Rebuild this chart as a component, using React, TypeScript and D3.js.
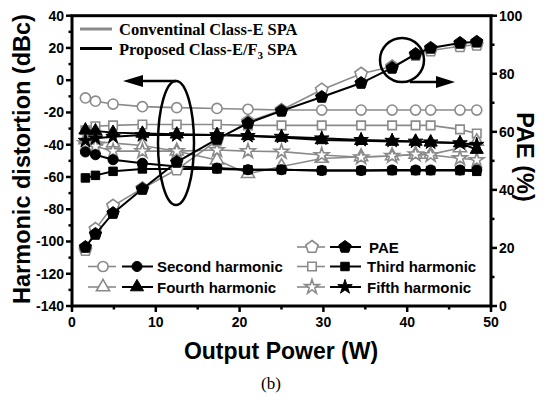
import React from "react";
import * as d3 from "d3";

// Output power sweep (W)
const outputPower = [1.6, 2.8, 4.9, 8.4, 12.5, 17.3, 21.0, 25.0, 29.8, 34.5, 38.2, 41.0, 42.8, 46.3, 48.3];

// Conventional Class-E SPA harmonics (dBc)
const convSecond = [-11, -13, -14.8, -16.4, -17, -17.5, -18, -18.5, -18.5, -18.5, -18.5, -18.5, -18.5, -18.5, -18.5];
const convThird = [-31, -28.5, -28, -27.5, -27.5, -27.5, -28, -28, -28, -28, -28, -28, -28, -30.5, -33];
const convFourth = [-37, -38, -39, -40.5, -44, -49.5, -58, -53.5, -48.5, -47.5, -47, -46, -46, -42, -38];
const convFifth = [-39, -41, -44, -44, -44, -43.3, -44, -44.3, -46.4, -47.8, -47, -46, -46.4, -48.4, -49.5];

// Proposed Class-E/F3 SPA harmonics (dBc)
const propSecond = [-44.5, -46.2, -49.3, -51.5, -53.5, -54.5, -55.5, -55.5, -56, -56, -55.7, -55.7, -55.7, -55.7, -55.7];
const propThird = [-60.6, -59, -56.5, -55, -55, -55, -55.5, -55.5, -56, -56, -56, -56, -56, -56, -56.5];
const propFourth = [-31, -31.5, -32.5, -33, -33.5, -34, -34.5, -35.5, -37, -37.5, -38, -38, -38.5, -39, -43];
const propFifth = [-37.5, -36, -35, -34, -34, -34, -34.5, -35, -36, -37, -37.5, -38, -38.5, -39, -40];

// PAE (%)
const convPAE = [19.3, 26.5, 34.5, 40.5, 47, 57, 63.5, 67.5, 74.5, 80, 82.5, 86.5, 88, 89.5, 90];
const propPAE = [20.3, 24.8, 32, 40.3, 49.6, 57.5, 63, 67.2, 72, 76.8, 82, 86.8, 88.9, 90.6, 91];

const xTicks = [0, 10, 20, 30, 40, 50];
const leftTicks = [-140, -120, -100, -80, -60, -40, -20, 0, 20, 40];
const rightTicks = [0, 20, 40, 60, 80, 100];

const GRAY = "#8a8a8a";
const BLACK = "#000";
const SANS = "Arial, 'Liberation Sans', sans-serif";
const SERIF = "'Times New Roman', 'Liberation Serif', serif";

type Shape = "circle" | "square" | "triangle" | "star" | "pentagon";

function shapePath(shape: Shape): string {
  if (shape === "pentagon") {
    const r = 6.5;
    const pts = d3.range(5).map((k) => {
      const a = -Math.PI / 2 + (k * 2 * Math.PI) / 5;
      return [r * Math.cos(a), r * Math.sin(a)];
    });
    return "M" + pts.map((p) => p.join(",")).join("L") + "Z";
  }
  const map: Record<string, [d3.SymbolType, number]> = {
    circle: [d3.symbolCircle, 80],
    square: [d3.symbolSquare, 72],
    triangle: [d3.symbolTriangle, 75],
    star: [d3.symbolStar, 65],
  };
  const [type, size] = map[shape];
  return d3.symbol().type(type).size(size)() as string;
}

function Marker({ shape, open, x, y }: { shape: Shape; open: boolean; x: number; y: number }) {
  return (
    <path
      d={shapePath(shape)}
      transform={`translate(${x},${y})`}
      fill={open ? "#fff" : BLACK}
      stroke={open ? GRAY : BLACK}
      strokeWidth={open ? 1.6 : 1}
    />
  );
}

export default function App() {
  const width = 547;
  const height = 400;
  const left = 72;
  const right = 491;
  const top = 15.7;
  const bottom = 306;

  const x = d3.scaleLinear().domain([0, 50]).range([left, right]);
  const yL = d3.scaleLinear().domain([-140, 40]).range([bottom, top]);
  const yR = d3.scaleLinear().domain([0, 100]).range([bottom, top]);

  const series = (vals: number[], y: d3.ScaleLinear<number, number>, shape: Shape, open: boolean, key: string) => {
    const pts = vals.map((v, i) => [x(outputPower[i]), y(v)] as [number, number]);
    const line = d3.line()(pts) as string;
    return (
      <g key={key}>
        <path d={line} fill="none" stroke={open ? GRAY : BLACK} strokeWidth={open ? 1.6 : 2} />
        {pts.map((p, i) => (
          <Marker key={i} shape={shape} open={open} x={p[0]} y={p[1]} />
        ))}
      </g>
    );
  };

  const legendRow = (gx: number, bx: number, tx: number, y: number, shape: Shape, label: string) => (
    <g key={label}>
      <line x1={gx - 15} x2={gx + 13} y1={y} y2={y} stroke={GRAY} strokeWidth={1.6} />
      <Marker shape={shape} open={true} x={gx} y={y} />
      <line x1={bx - 15} x2={bx + 16} y1={y} y2={y} stroke={BLACK} strokeWidth={2} />
      <Marker shape={shape} open={false} x={bx} y={y} />
      <text x={tx} y={y + 5.5} fontFamily={SANS} fontWeight="bold" fontSize={15}>
        {label}
      </text>
    </g>
  );

  const leftMinor = d3.range(-130, 40, 20);
  const rightMinor = d3.range(10, 100, 20);
  const xMinor = d3.range(5, 50, 10);

  return (
    <svg width={width} height={height} style={{ position: "absolute", left: 0, top: 0, background: "#fff" }}>
      {/* data */}
      {series(convSecond, yL, "circle", true, "cs")}
      {series(convThird, yL, "square", true, "ct")}
      {series(convFourth, yL, "triangle", true, "cf")}
      {series(convFifth, yL, "star", true, "cv")}
      {series(propSecond, yL, "circle", false, "ps")}
      {series(propThird, yL, "square", false, "pt")}
      {series(propFourth, yL, "triangle", false, "pf")}
      {series(propFifth, yL, "star", false, "pv")}
      {series(convPAE, yR, "pentagon", true, "cp")}
      {series(propPAE, yR, "pentagon", false, "pp")}

      {/* annotations */}
      <ellipse cx={176} cy={143} rx={18} ry={62} fill="none" stroke={BLACK} strokeWidth={2.5} />
      <line x1={176} y1={81} x2={138} y2={81} stroke={BLACK} strokeWidth={2.5} />
      <path d="M123,81 L143,75 L143,87 Z" fill={BLACK} />
      <circle cx={402} cy={60} r={22} fill="none" stroke={BLACK} strokeWidth={2.5} />
      <line x1={410} y1={82} x2={440} y2={82} stroke={BLACK} strokeWidth={2.5} />
      <path d="M455,82 L436,76 L436,88 Z" fill={BLACK} />

      {/* frame */}
      <rect x={left} y={top} width={right - left} height={bottom - top} fill="none" stroke={BLACK} strokeWidth={3} />

      {/* left axis */}
      {leftTicks.map((t) => (
        <g key={"l" + t}>
          <line x1={left - 6} x2={left} y1={yL(t)} y2={yL(t)} stroke={BLACK} strokeWidth={2.5} />
          <text x={left - 8} y={yL(t) + 5} textAnchor="end" fontFamily={SANS} fontWeight="bold" fontSize={14}>
            {t}
          </text>
        </g>
      ))}
      {leftMinor.map((t) => (
        <line key={"lm" + t} x1={left - 3.5} x2={left} y1={yL(t)} y2={yL(t)} stroke={BLACK} strokeWidth={2.5} />
      ))}

      {/* right axis */}
      {rightTicks.map((t) => (
        <g key={"r" + t}>
          <line x1={right} x2={right + 6} y1={yR(t)} y2={yR(t)} stroke={BLACK} strokeWidth={2.5} />
          <text x={right + 8} y={yR(t) + 5} textAnchor="start" fontFamily={SANS} fontWeight="bold" fontSize={14}>
            {t}
          </text>
        </g>
      ))}
      {rightMinor.map((t) => (
        <line key={"rm" + t} x1={right} x2={right + 3.5} y1={yR(t)} y2={yR(t)} stroke={BLACK} strokeWidth={2.5} />
      ))}

      {/* bottom axis */}
      {xTicks.map((t) => (
        <g key={"x" + t}>
          <line x1={x(t)} x2={x(t)} y1={bottom} y2={bottom + 6} stroke={BLACK} strokeWidth={2.5} />
          <text x={x(t)} y={bottom + 21} textAnchor="middle" fontFamily={SANS} fontWeight="bold" fontSize={14}>
            {t}
          </text>
        </g>
      ))}
      {xMinor.map((t) => (
        <line key={"xm" + t} x1={x(t)} x2={x(t)} y1={bottom} y2={bottom + 3.5} stroke={BLACK} strokeWidth={2.5} />
      ))}

      {/* axis titles */}
      <text
        transform={`translate(30,159) rotate(-90)`}
        textAnchor="middle"
        fontFamily={SANS}
        fontWeight="bold"
        fontSize={23.5}
      >
        Harmonic distortion (dBc)
      </text>
      <text
        transform={`translate(517,157) rotate(90)`}
        textAnchor="middle"
        fontFamily={SANS}
        fontWeight="bold"
        fontSize={23.5}
      >
        PAE (%)
      </text>
      <text x={281} y={359} textAnchor="middle" fontFamily={SANS} fontWeight="bold" fontSize={23}>
        Output Power (W)
      </text>
      <text x={271} y={389} textAnchor="middle" fontFamily={SERIF} fontSize={17}>
        (b)
      </text>

      {/* top legend */}
      <line x1={80} x2={112} y1={29} y2={29} stroke={GRAY} strokeWidth={3} />
      <text x={119} y={35} fontFamily={SERIF} fontWeight="bold" fontSize={16.5}>
        Conventinal Class-E SPA
      </text>
      <line x1={80} x2={112} y1={48.5} y2={48.5} stroke={BLACK} strokeWidth={3} />
      <text x={119} y={55} fontFamily={SERIF} fontWeight="bold" fontSize={16.5}>
        Proposed Class-E/F
        <tspan fontSize={11} dy={4}>3</tspan>
        <tspan dy={-4}> SPA</tspan>
      </text>

      {/* bottom legend */}
      {legendRow(312, 345, 369, 247, "pentagon", "PAE")}
      {legendRow(103, 137, 157, 266.5, "circle", "Second harmonic")}
      {legendRow(312, 345, 367, 266.5, "square", "Third harmonic")}
      {legendRow(103, 137, 157, 287, "triangle", "Fourth harmonic")}
      {legendRow(312, 345, 367, 287, "star", "Fifth harmonic")}
    </svg>
  );
}
